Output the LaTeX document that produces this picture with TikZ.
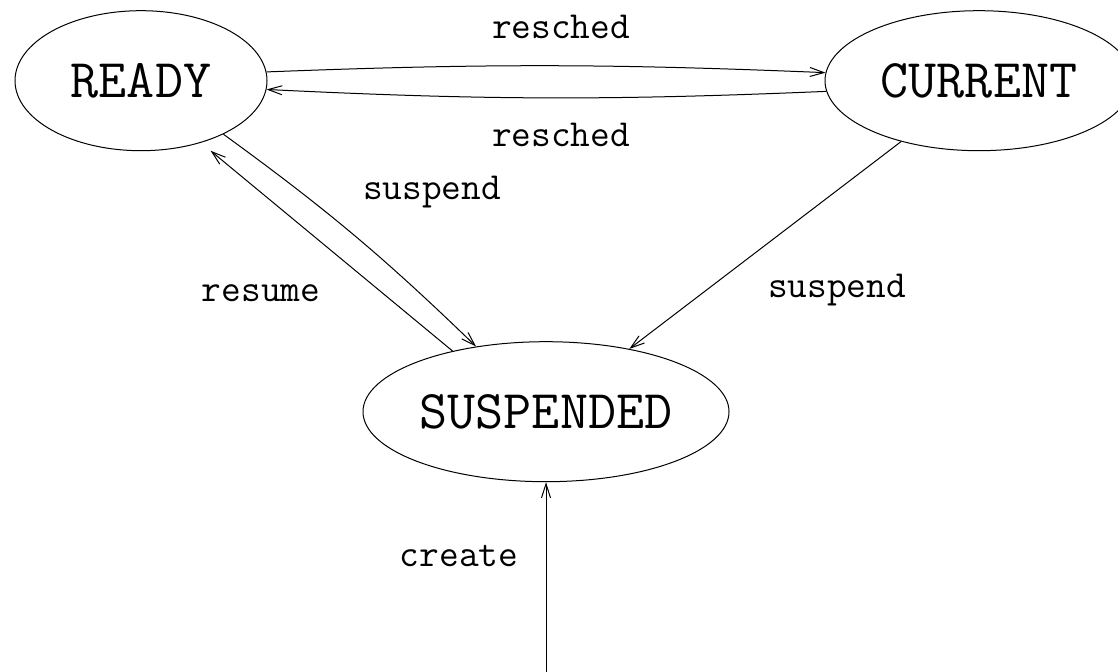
\documentclass[tikz,border=0pt]{standalone}
\usepackage{fontspec}
\usetikzlibrary{positioning, arrows.meta, shapes.geometric}

\begin{document}
\begin{tikzpicture}[
  x=0.4pt, y=0.4pt,
  % --- Style definitions ---
  state/.style={draw, ellipse, inner sep=0pt, minimum height=56pt, line width=0.4pt,
                font=\fontsize{21.8}{26}\selectfont\ttfamily},
  lbl/.style={anchor=base, inner sep=0pt, font=\fontsize{15.3}{18}\selectfont\ttfamily},
  arr/.style={-{Straight Barb[length=5.6pt, width=3.6pt]}, line width=0.4pt},
]
\useasboundingbox (0,0) rectangle (1118,-672);
\clip (0,0) rectangle (1118,-672);

% ===== States =====
\node[state, minimum width=100.8pt] (ready) at (141,-80.7) {READY};
\node[state, minimum width=123.2pt] (current) at (979,-80.7) {CURRENT};
\node[state, minimum width=146.4pt] (suspended) at (546,-411.7) {SUSPENDED};
\coordinate (newproc) at (546,-672);

% ===== Transitions =====
\draw[arr] (ready.4) to[bend left=2.3] (current.177);
\draw[arr] (current.184) to[bend left=2.6] (ready.-4);
\draw[arr] (ready.-33) to[bend left=4] (suspended.137);
\draw[arr, shorten >=5pt] (suspended.147) -- (ready.-46);
\draw[arr] (current.218) -- (suspended.37);
\draw[arr] (newproc) -- (suspended.south);

% ===== Labels =====
\node[lbl] (lresched1) at (561,-39) {resched};
\node[lbl] (lresched2) at (561,-146.5) {resched};
\node[lbl] (lsuspend1) at (432,-199.5) {suspend};
\node[lbl] (lresume) at (261,-301.5) {resume};
\node[lbl] (lsuspend2) at (837,-297) {suspend};
\node[lbl] (lcreate) at (459,-566) {create};

\end{tikzpicture}
\end{document}
